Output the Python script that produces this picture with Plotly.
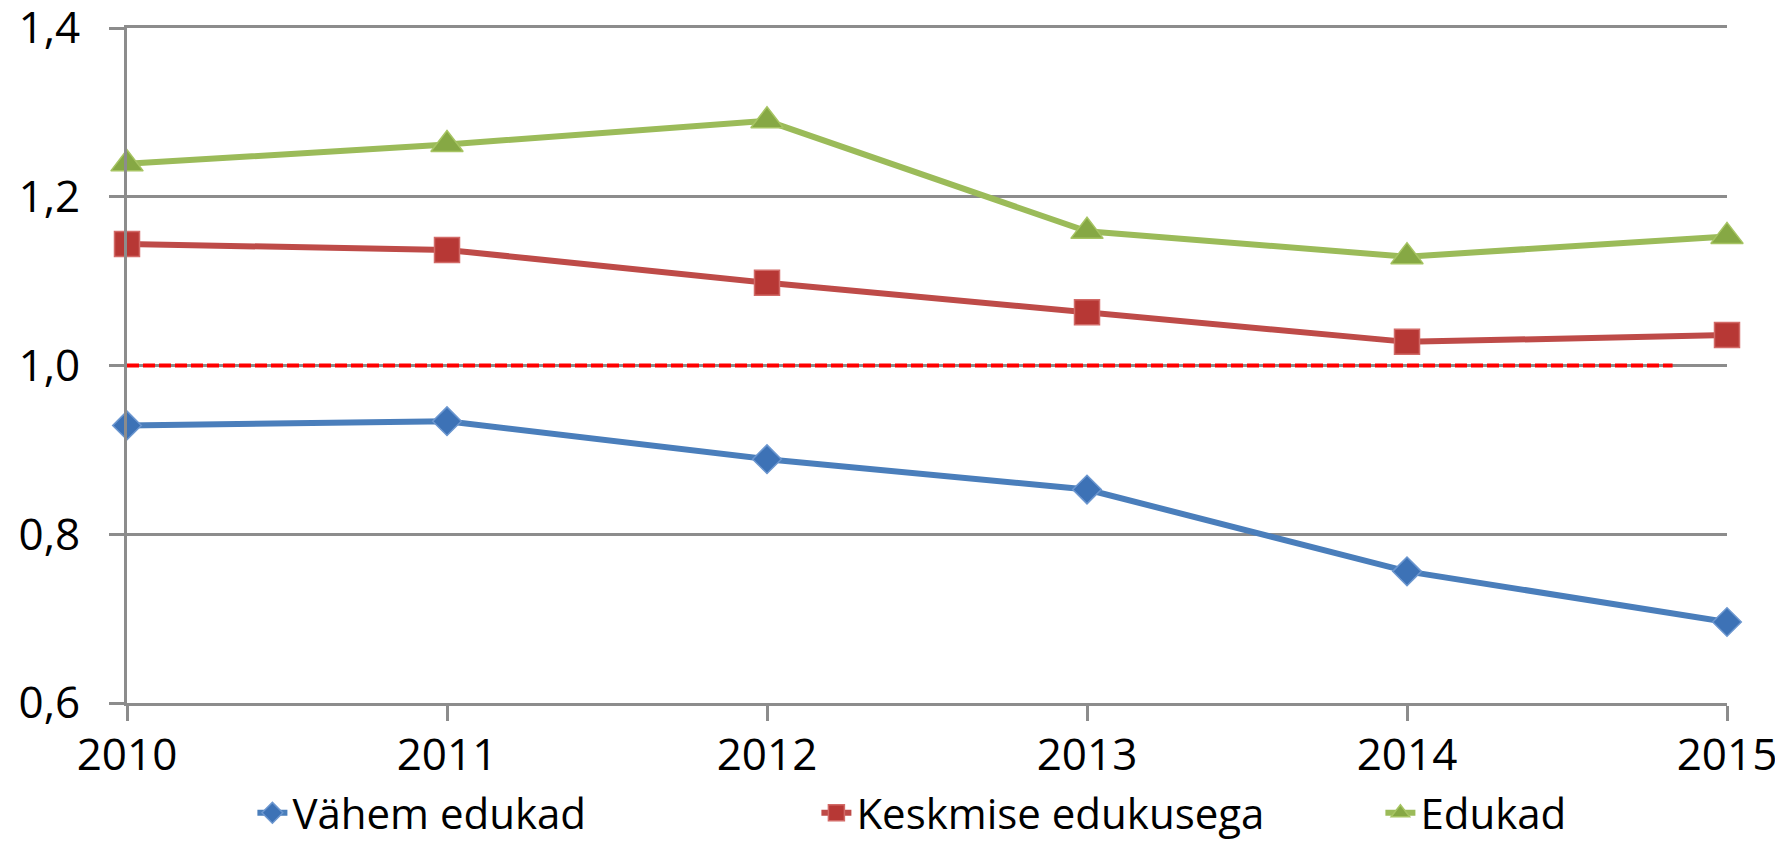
import plotly.graph_objects as go

years = [2010, 2011, 2012, 2013, 2014, 2015]
vahem_edukad = [0.929, 0.934, 0.889, 0.853, 0.756, 0.696]
keskmise_edukusega = [1.144, 1.137, 1.098, 1.063, 1.028, 1.036]
edukad = [1.239, 1.262, 1.290, 1.159, 1.129, 1.153]
ref_years = [2010, 2014.83]
ref_values = [1.0, 1.0]
y_ticks = [0.6, 0.8, 1.0, 1.2, 1.4]

FONT = "Open Sans"
GRID = "#8c8c8c"

fig = go.Figure()

fig.add_trace(go.Scatter(
    x=ref_years, y=ref_values, mode="lines", showlegend=False,
    line=dict(color="#ff0000", width=4, dash="12px,4px"), hoverinfo="skip",
))

series = [
    ("Vähem edukad", vahem_edukad, "#4a7ebb", "diamond", 22, "#3d72b6", "#6b96cf"),
    ("Keskmise edukusega", keskmise_edukusega, "#be4b48", "square", 25, "#b73835", "#d26a67"),
    ("Edukad", edukad, "#9bbb59", "triangle-up", 28, "#86a844", "#a6c462"),
]
for name, vals, lc, sym, sz, fill, border in series:
    fig.add_trace(go.Scatter(
        x=years, y=vals, name=name, mode="lines+markers", cliponaxis=False,
        line=dict(color=lc, width=6),
        marker=dict(symbol=sym, size=sz, color=fill, line=dict(color=border, width=1.5)),
    ))

# page has an 8px body margin, so the figure is 8px smaller and margins are offset
fig.update_layout(
    width=1775, height=837,
    margin=dict(l=119, r=56, t=20, b=142, autoexpand=False),
    paper_bgcolor="white", plot_bgcolor="white",
    separators=", ",
    font=dict(family=FONT, size=44, color="black"),
    showlegend=True,
    legend=dict(orientation="h", x=-0.001, xanchor="left", y=-0.163, yanchor="middle",
                font=dict(family=FONT, size=42), itemsizing="trace",
                indentation=127, entrywidth=392, entrywidthmode="pixels",
                traceorder="normal", bgcolor="rgba(0,0,0,0)"),
)

fig.update_xaxes(
    range=[2010, 2015], tickmode="array", tickvals=years, ticktext=[str(y) for y in years],
    showgrid=False, zeroline=False, showline=True, mirror=True, linecolor=GRID, linewidth=3,
    ticks="outside", ticklen=15, tickwidth=3, tickcolor=GRID, automargin=False,
    tickfont=dict(family=FONT, size=44), ticklabelstandoff=-4, ticklabeloverflow="allow",
)
fig.update_yaxes(
    range=[0.6, 1.4], tickmode="array", tickvals=y_ticks, tickformat=".1f",
    showgrid=True, gridcolor=GRID, gridwidth=3, zeroline=False,
    showline=True, linecolor=GRID, linewidth=3, automargin=False,
    ticks="outside", ticklen=15, tickwidth=3, tickcolor=GRID,
    tickfont=dict(family=FONT, size=44), ticklabelstandoff=20, ticklabeloverflow="allow",
)

fig.write_html("out.html")
